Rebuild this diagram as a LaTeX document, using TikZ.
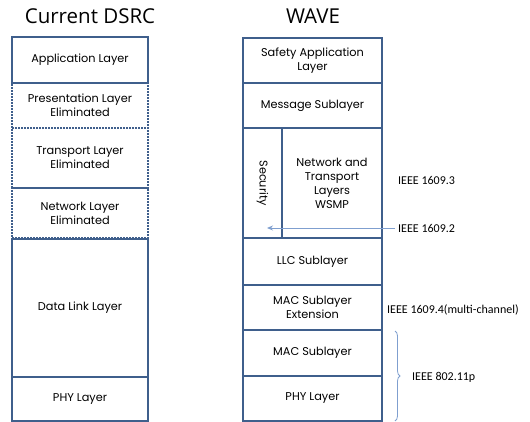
\documentclass[tikz,border=0pt]{standalone}
\usepackage{fontspec}
\setmainfont{Poppins}
\newfontfamily\titlefont{Open Sans}
\newfontfamily\ieeefont{Carlito}
\usetikzlibrary{positioning,arrows.meta,decorations.pathreplacing}
\definecolor{frame}{HTML}{3F5F8C}
\definecolor{pointer}{HTML}{7F9FCF}

\tikzset{
  layer/.style={draw=frame, line width=2pt, minimum width=136pt, align=center, inner sep=0pt,
    font=\fontsize{11.3}{14}\selectfont},
  gone/.style={layer, densely dotted},
  heading/.style={font=\titlefont\fontsize{20.5}{24}\selectfont},
  std/.style={font=\ieeefont\fontsize{12}{14}\selectfont, anchor=west, inner sep=0pt}
}

\begin{document}
\begin{tikzpicture}[x=1pt, y=-1pt]
\useasboundingbox (0,0) rectangle (530,422);

% Titles
\node[heading] (dsrc) at (90,16) {Current DSRC};
\node[heading] (wave) at (313,16) {WAVE};

% Current DSRC stack
\node[gone, minimum height=45pt] (pres) at (80,105.5) {Presentation Layer\\Eliminated};
\node[gone, minimum height=60pt] (trans) at (80,158) {Transport Layer\\Eliminated};
\node[gone, minimum height=50pt] (net) at (80,213) {Network Layer\\Eliminated};
\node[layer, minimum height=46pt] (app) at (80,60) {Application Layer};
\node[layer, minimum height=138pt] (dll) at (80,308) {Data Link Layer};
\node[layer, minimum height=44pt] (phy) at (80,399) {PHY Layer};

% WAVE stack
\node[layer, minimum width=139pt, minimum height=45pt] (safety) at (312.5,60.5) {Safety Application\\Layer};
\node[layer, minimum width=139pt, minimum height=45pt] (msg) at (312.5,105.5) {Message Sublayer};
\node[layer, minimum width=39pt, minimum height=110pt] (sec) at (262.5,183) {};
\node[rotate=-90, font=\fontsize{11.3}{14}\selectfont] (seclabel) at (sec) {Security};
\node[layer, minimum width=100pt, minimum height=110pt] (wsmp) at (332,183) {Network and\\Transport\\Layers\\WSMP};
\node[layer, minimum width=139pt, minimum height=47pt] (llc) at (312.5,261.5) {LLC Sublayer};
\node[layer, minimum width=139pt, minimum height=45pt] (macx) at (312.5,307.5) {MAC Sublayer\\Extension};
\node[layer, minimum width=139pt, minimum height=46pt] (mac) at (312.5,353) {MAC Sublayer};
\node[layer, minimum width=139pt, minimum height=45pt] (wphy) at (312.5,398.5) {PHY Layer};

% Standards
\node[std] (p3) at (398,180) {IEEE 1609.3};
\node[std] (p2) at (398,228) {IEEE 1609.2};
\node[std] (p4) at (387,310) {IEEE 1609.4(multi-channel)};
\node[std] (p11) at (412,377) {IEEE 802.11p};

\coordinate (sectip) at (267,228);
\draw[pointer, line width=0.9pt, -{Stealth[length=6pt,width=5pt]}] ([xshift=-3pt]p2.west) -- (sectip);
\draw[pointer, line width=0.8pt, decorate, decoration={brace, amplitude=5pt}] (395,331) -- (395,421);

\end{tikzpicture}
\end{document}
